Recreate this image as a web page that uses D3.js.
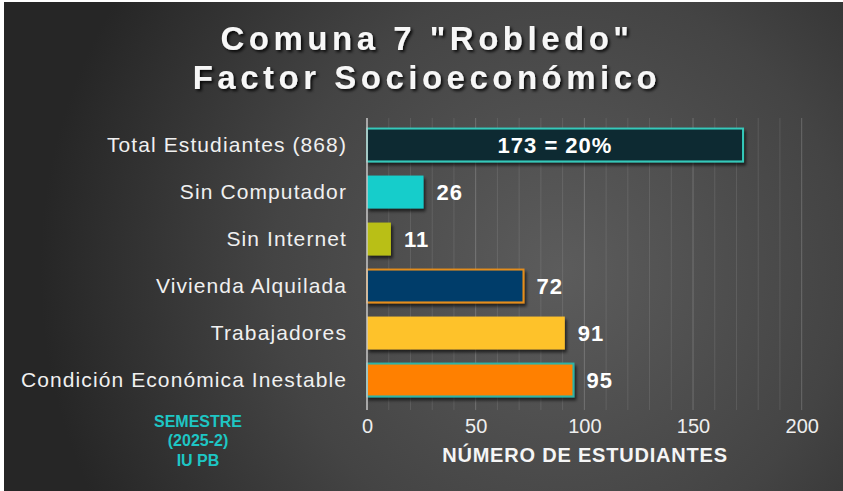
<!DOCTYPE html>
<html>
<head>
<meta charset="utf-8">
<script src="https://cdn.jsdelivr.net/npm/d3@7/dist/d3.min.js"></script>
<style>
  html, body { margin: 0; padding: 0; background: #ffffff; }
  svg { display: block; }
  text { font-family: Arial, "Liberation Sans", sans-serif; }
</style>
</head>
<body>
<svg id="chart" width="843" height="491"></svg>
<script>
// Socioeconomic factors, Comuna 7 "Robledo"
const categories = [
  "Total Estudiantes (868)",
  "Sin Computador",
  "Sin Internet",
  "Vivienda Alquilada",
  "Trabajadores",
  "Condición Económica Inestable"
];
const values = [173, 26, 11, 72, 91, 95];
const valueLabels = ["173 = 20%", "26", "11", "72", "91", "95"];
const fillColors = ["#0e2a31", "#12cdcb", "#b9bf18", "#023e6a", "#fec22b", "#ff8000"];
const strokeColors = ["#34c9ba", "none", "none", "#e58d1e", "none", "#2fb3a6"];
const xTicks = [0, 50, 100, 150, 200];
const titleLines = ["Comuna 7 \"Robledo\"", "Factor Socioeconómico"];
const noteLines = ["SEMESTRE", "(2025-2)", "IU PB"];
const axisTitle = "NÚMERO DE ESTUDIANTES";

const svg = d3.select("#chart");
const W = 843, H = 491;

const defs = svg.append("defs");
const bg = defs.append("radialGradient")
  .attr("id", "bgGrad")
  .attr("gradientUnits", "userSpaceOnUse")
  .attr("cx", 560).attr("cy", 270).attr("r", 520);
bg.append("stop").attr("offset", "0%").attr("stop-color", "#5c5c5c");
bg.append("stop").attr("offset", "55%").attr("stop-color", "#444444");
bg.append("stop").attr("offset", "100%").attr("stop-color", "#262626");

const shadow = defs.append("filter").attr("id", "barShadow")
  .attr("x", "-10%").attr("y", "-30%").attr("width", "130%").attr("height", "180%");
shadow.append("feDropShadow").attr("dx", 2).attr("dy", 3)
  .attr("stdDeviation", 1.6).attr("flood-color", "#000").attr("flood-opacity", 0.6);

const textShadow = defs.append("filter").attr("id", "textShadow")
  .attr("x", "-10%").attr("y", "-30%").attr("width", "130%").attr("height", "180%");
textShadow.append("feDropShadow").attr("dx", 2).attr("dy", 2)
  .attr("stdDeviation", 1.5).attr("flood-color", "#000").attr("flood-opacity", 0.85);

// panel
svg.append("rect").attr("x", 4).attr("y", 2).attr("width", W - 4).attr("height", H - 2)
  .attr("fill", "url(#bgGrad)");

// title
svg.append("g").selectAll("text").data(titleLines).join("text")
  .attr("x", 427)
  .attr("y", (d, i) => 50 + i * 39)
  .attr("text-anchor", "middle")
  .attr("font-size", 33)
  .attr("font-weight", "bold")
  .attr("letter-spacing", 4.5)
  .attr("fill", "#f7f7f7")
  .attr("filter", "url(#textShadow)")
  .text(d => d);

// scales
const x = d3.scaleLinear().domain([0, 200]).range([367, 801.7]);
const y = d3.scaleBand().domain(categories).range([121.5, 403.5])
  .paddingInner(0.3).paddingOuter(0.15);

const plotTop = 118, plotBottom = 410;

// vertical gridlines every 10 students
const gridVals = d3.range(10, 201, 10);
svg.append("g").selectAll("line").data(gridVals).join("line")
  .attr("x1", d => x(d)).attr("x2", d => x(d))
  .attr("y1", plotTop).attr("y2", plotBottom)
  .attr("stroke", "#ffffff")
  .attr("stroke-opacity", d => d % 50 === 0 ? 0.2 : 0.1)
  .attr("stroke-width", 1);

// bars
svg.append("g").selectAll("rect").data(values).join("rect")
  .attr("x", x(0))
  .attr("y", (d, i) => y(categories[i]))
  .attr("width", d => x(d) - x(0))
  .attr("height", y.bandwidth())
  .attr("fill", (d, i) => fillColors[i])
  .attr("stroke", (d, i) => strokeColors[i])
  .attr("stroke-width", 2)
  .attr("filter", "url(#barShadow)");

// category axis line
svg.append("line")
  .attr("x1", x(0)).attr("x2", x(0))
  .attr("y1", plotTop).attr("y2", plotBottom)
  .attr("stroke", "#c8c8c8").attr("stroke-width", 1.5);

// category labels
svg.append("g").selectAll("text").data(categories).join("text")
  .attr("x", 347)
  .attr("y", d => y(d) + y.bandwidth() / 2 + 7)
  .attr("text-anchor", "end")
  .attr("font-size", 21)
  .attr("letter-spacing", 1.1)
  .attr("fill", "#f0f0f0")
  .text(d => d);

// value labels
svg.append("g").selectAll("text").data(values).join("text")
  .attr("x", (d, i) => i === 0 ? (x(0) + x(d)) / 2 : x(d) + 13)
  .attr("y", (d, i) => y(categories[i]) + y.bandwidth() / 2 + 8)
  .attr("text-anchor", (d, i) => i === 0 ? "middle" : "start")
  .attr("font-size", 22)
  .attr("font-weight", "bold")
  .attr("letter-spacing", 1)
  .attr("fill", "#ffffff")
  .text((d, i) => valueLabels[i]);

// x axis tick labels
const xAxis = d3.axisBottom(x).tickValues(xTicks).tickSize(0).tickPadding(0);
const gx = svg.append("g").attr("transform", `translate(0, ${plotBottom})`).call(xAxis);
gx.select(".domain").remove();
gx.selectAll("text")
  .attr("y", 22.5)
  .attr("dy", 0)
  .attr("font-size", 20)
  .attr("font-family", "Arial, 'Liberation Sans', sans-serif")
  .attr("fill", "#eeeeee");

// axis title
svg.append("text")
  .attr("x", 585).attr("y", 462)
  .attr("text-anchor", "middle")
  .attr("font-size", 20)
  .attr("font-weight", "bold")
  .attr("letter-spacing", 0.8)
  .attr("fill", "#f5f5f5")
  .text(axisTitle);

// semester note
svg.append("g").selectAll("text").data(noteLines).join("text")
  .attr("x", 198)
  .attr("y", (d, i) => 426.5 + i * 19.5)
  .attr("text-anchor", "middle")
  .attr("font-size", 16)
  .attr("font-weight", "bold")
  .attr("fill", "#1ec6c4")
  .text(d => d);
</script>
</body>
</html>
